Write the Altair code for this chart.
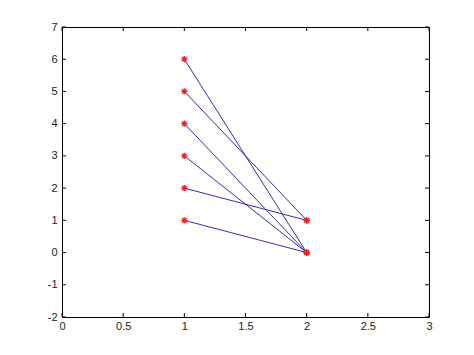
import altair as alt
import pandas as pd

left_x = [1, 1, 1, 1, 1, 1]
left_y = [6, 5, 4, 3, 2, 1]
right_x = [2, 2, 2, 2, 2, 2]
right_y = [0, 1, 0, 0, 1, 0]

x_ticks = [0, 0.5, 1, 1.5, 2, 2.5, 3]
y_ticks = [-2, -1, 0, 1, 2, 3, 4, 5, 6, 7]

W, H = 367, 290

rows = []
for i in range(len(left_y)):
    rows.append({"edge": i, "x": left_x[i], "y": left_y[i], "o": 0})
    rows.append({"edge": i, "x": right_x[i], "y": right_y[i], "o": 1})
df = pd.DataFrame(rows)

xs = alt.Scale(domain=[0, 3], nice=False, zero=False)
ys = alt.Scale(domain=[-2, 7], nice=False, zero=False)

font = "Liberation Sans"

xaxis = alt.Axis(values=x_ticks, labelExpr="'' + datum.value", ticks=False, domain=False,
                 grid=False, title=None, labelFont=font, labelFontSize=11,
                 labelColor="#222", labelPadding=3, labelOverlap=False,
                 labelFlush=False, labelBound=False)
yaxis = alt.Axis(values=y_ticks, labelExpr="'' + datum.value", ticks=False, domain=False,
                 grid=False, title=None, labelFont=font, labelFontSize=11,
                 labelColor="#222", labelPadding=5, labelOverlap=False,
                 labelFlush=False, labelBound=False)

lines = alt.Chart(df).mark_line(color="#1a1aa8", strokeWidth=1, opacity=0.9).encode(
    x=alt.X("x:Q", scale=xs, axis=xaxis),
    y=alt.Y("y:Q", scale=ys, axis=yaxis),
    detail="edge:N",
    order="o:Q",
)

asterisk = "M-1,0L1,0M0,-1L0,1M-0.7,-0.7L0.7,0.7M-0.7,0.7L0.7,-0.7"
points = alt.Chart(df).mark_point(shape=asterisk, color="#ff1a1a", filled=False,
                                  size=40, strokeWidth=1.2, opacity=1).encode(
    x=alt.X("x:Q", scale=xs, axis=xaxis),
    y=alt.Y("y:Q", scale=ys, axis=yaxis),
)

xt = pd.DataFrame({"t": x_ticks})
yt = pd.DataFrame({"t": y_ticks})
tick_color = "#000"
bx = alt.Chart(xt).mark_rule(color=tick_color, strokeWidth=1).encode(
    x=alt.X("t:Q", scale=xs, axis=xaxis), y=alt.value(H), y2=alt.value(H - 4))
tx = alt.Chart(xt).mark_rule(color=tick_color, strokeWidth=1).encode(
    x=alt.X("t:Q", scale=xs, axis=xaxis), y=alt.value(0), y2=alt.value(4))
ly = alt.Chart(yt).mark_rule(color=tick_color, strokeWidth=1).encode(
    y=alt.Y("t:Q", scale=ys, axis=yaxis), x=alt.value(0), x2=alt.value(4))
ry = alt.Chart(yt).mark_rule(color=tick_color, strokeWidth=1).encode(
    y=alt.Y("t:Q", scale=ys, axis=yaxis), x=alt.value(W), x2=alt.value(W - 4))

chart = alt.layer(lines, points, bx, tx, ly, ry).properties(
    width=W, height=H,
    autosize=alt.AutoSizeParams(type="none"),
    padding={"left": 62, "top": 27, "right": 45, "bottom": 38},
    background="white",
).configure_view(stroke="#000", strokeWidth=1)

chart.save("out.html", embed_options={"renderer": "svg", "actions": False})
